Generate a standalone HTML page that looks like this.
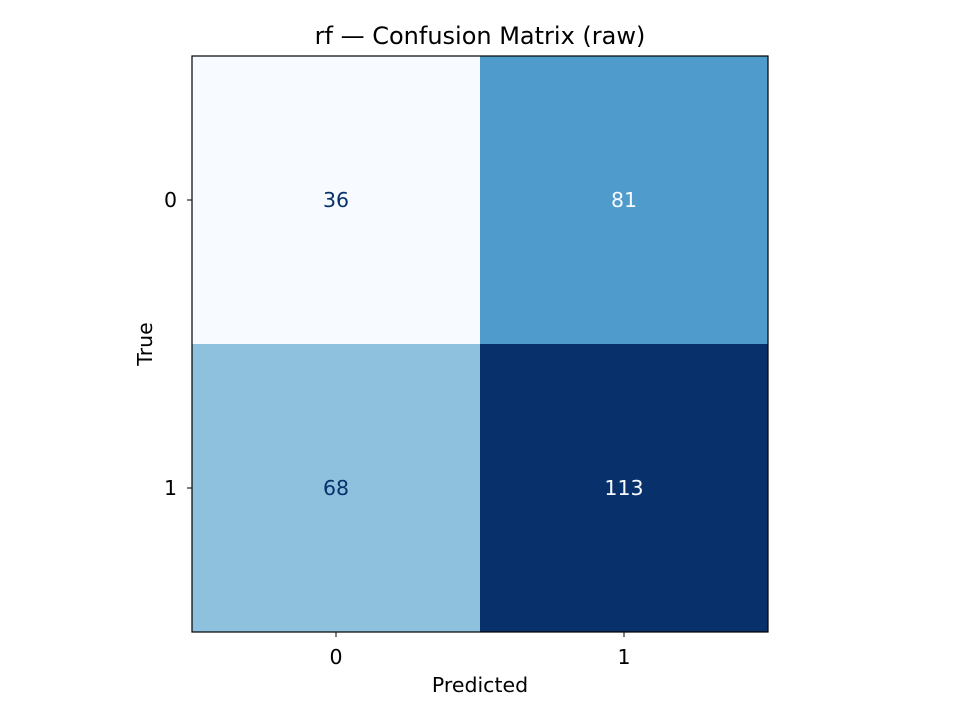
<!DOCTYPE html>
<html>
<head>
<meta charset="utf-8">
<style>
  html,body{margin:0;padding:0;background:#fff;}
  svg{display:block;font-family:"DejaVu Sans","Liberation Sans",sans-serif;}
</style>
</head>
<body>
<svg id="chart" width="960" height="720" viewBox="0 0 960 720">
  <text x="480" y="44" text-anchor="middle" font-size="24" fill="#000">rf — Confusion Matrix (raw)</text>
  <g id="cells"></g>
  <rect x="192" y="56" width="576" height="576" fill="none" stroke="#000" stroke-width="1.2"></rect>
  <g id="ticks"></g>
  <text x="480" y="692" text-anchor="middle" font-size="20.5" fill="#000">Predicted</text>
  <text x="0" y="0" transform="translate(152,344) rotate(-90)" text-anchor="middle" font-size="20.5" fill="#000">True</text>
</svg>
<script>
const trueLabels = ["0", "1"];
const predLabels = ["0", "1"];
const row0 = [36, 81];
const row1 = [68, 113];
const matrix = [row0, row1];

const NS = "http://www.w3.org/2000/svg";
const x0 = 192, y0 = 56, W = 576, H = 576;
const cw = W / predLabels.length, ch = H / trueLabels.length;
function xPos(j){ return x0 + j * cw; }
function yPos(i){ return y0 + i * ch; }

const stops = ["#f7fbff","#deebf7","#c6dbef","#9ecae1","#6baed6","#4292c6","#2171b5","#08519c","#08306b"];
function hex(h){ return [1,3,5].map(k=>parseInt(h.substr(k,2),16)); }
function blues(t){
  t = Math.max(0, Math.min(1, t));
  const p = t * (stops.length - 1), k = Math.min(Math.floor(p), stops.length - 2), f = p - k;
  const a = hex(stops[k]), b = hex(stops[k+1]);
  return "rgb(" + a.map((v,i)=>Math.round(v + (b[i]-v)*f)).join(",") + ")";
}
const flat = matrix.flat();
const vmin = Math.min(...flat), vmax = Math.max(...flat);
const thresh = (vmin + vmax) / 2;

const cells = document.getElementById("cells");
matrix.forEach((row, i) => {
  row.forEach((v, j) => {
    const r = document.createElementNS(NS, "rect");
    r.setAttribute("x", xPos(j)); r.setAttribute("y", yPos(i));
    r.setAttribute("width", cw); r.setAttribute("height", ch);
    r.setAttribute("fill", blues((v - vmin) / (vmax - vmin)));
    
    
    cells.appendChild(r);
    const t = document.createElementNS(NS, "text");
    t.setAttribute("x", xPos(j) + cw/2); t.setAttribute("y", yPos(i) + ch/2 + 7);
    t.setAttribute("text-anchor", "middle"); t.setAttribute("font-size", "20.5");
    t.setAttribute("fill", v > thresh ? "#f7fbff" : "#08306b");
    t.textContent = v;
    
    
    cells.appendChild(t);
  });
});

const ticks = document.getElementById("ticks");
predLabels.forEach((lab, j) => {
  const cx = xPos(j) + cw/2;
  const l = document.createElementNS(NS, "line");
  l.setAttribute("x1", cx); l.setAttribute("x2", cx); l.setAttribute("y1", 632); l.setAttribute("y2", 637);
  l.setAttribute("stroke", "#000"); l.setAttribute("stroke-width", "1");
  
  
  ticks.appendChild(l);
  const t = document.createElementNS(NS, "text");
  t.setAttribute("x", cx); t.setAttribute("y", 664); t.setAttribute("text-anchor", "middle"); t.setAttribute("font-size", "20.5");
  t.textContent = lab;
  
  
  ticks.appendChild(t);
});
trueLabels.forEach((lab, i) => {
  const cy = yPos(i) + ch/2;
  const l = document.createElementNS(NS, "line");
  l.setAttribute("x1", 187); l.setAttribute("x2", 192); l.setAttribute("y1", cy); l.setAttribute("y2", cy);
  l.setAttribute("stroke", "#000"); l.setAttribute("stroke-width", "1");
  
  
  ticks.appendChild(l);
  const t = document.createElementNS(NS, "text");
  t.setAttribute("x", 177); t.setAttribute("y", cy + 7); t.setAttribute("text-anchor", "end"); t.setAttribute("font-size", "20.5");
  t.textContent = lab;
  
  
  ticks.appendChild(t);
});
</script>
</body>
</html>
